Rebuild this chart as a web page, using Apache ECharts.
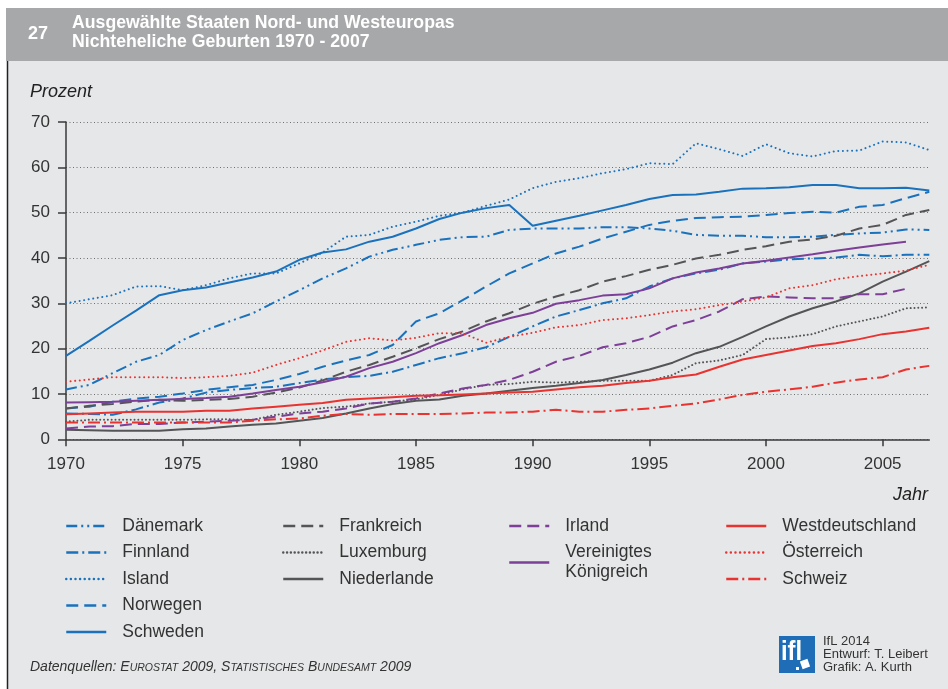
<!DOCTYPE html>
<html>
<head>
<meta charset="utf-8">
<script src="https://cdn.jsdelivr.net/npm/echarts@6/dist/echarts.min.js"></script>
<style>
html,body{margin:0;padding:0;background:#fff;}
#chart{width:948px;height:689px;}
</style>
</head>
<body>
<div id="chart"></div>
<script>
// ---- data ----
const years = [1970,1971,1972,1973,1974,1975,1976,1977,1978,1979,1980,1981,1982,1983,1984,1985,1986,1987,1988,1989,1990,1991,1992,1993,1994,1995,1996,1997,1998,1999,2000,2001,2002,2003,2004,2005,2006,2007];
const xTicks = [1970,1975,1980,1985,1990,1995,2000,2005];
const yTicks = [0,10,20,30,40,50,60,70];

const daenemark = [11.0,12.0,14.6,17.1,18.6,21.9,24.1,26.0,27.8,30.4, 32.9,35.5,37.7,40.3,41.8,42.9,44.0,44.6,44.7,46.2, 46.5,46.5,46.5,46.8,46.8,46.5,46.0,45.1,44.9,44.9, 44.6,44.6,44.7,45.1,45.4,45.6,46.3,46.2];
const finnland = [5.7,5.6,5.4,6.6,8.1,9.0,10.3,10.9,11.3,11.6, 12.4,13.2,13.7,14.0,14.9,16.4,17.9,19.0,20.3,22.6, 24.9,27.1,28.5,30.0,31.1,33.7,35.5,36.6,37.4,38.8, 39.2,39.7,39.9,40.1,40.7,40.4,40.7,40.7];
const island = [30.0,30.9,31.8,33.7,33.8,32.9,34.0,35.5,36.6,36.6, 38.8,41.2,44.7,45.1,46.9,48.0,49.3,50.0,51.5,52.9, 55.4,56.8,57.6,58.7,59.6,60.9,60.7,65.3,64.0,62.5, 65.1,63.1,62.4,63.6,63.7,65.7,65.5,63.8];
const norwegen = [6.8,7.2,8.3,9.0,9.4,10.1,10.9,11.5,12.0,13.1, 14.4,16.0,17.4,18.6,20.8,26.0,27.8,30.7,33.7,36.6, 38.8,41.0,42.5,44.3,45.8,47.3,48.2,48.8,49.0,49.1, 49.5,49.9,50.2,50.0,51.3,51.7,53.2,54.6];
const schweden = [18.4,21.7,25.1,28.4,31.8,32.9,33.5,34.6,35.7,37.0, 39.6,41.2,41.9,43.6,44.7,46.5,48.6,50.0,51.0,51.7, 47.1,48.2,49.3,50.5,51.7,53.0,53.9,54.0,54.6,55.3, 55.4,55.6,56.1,56.1,55.4,55.4,55.5,54.9];
const frankreich = [6.8,7.4,7.8,8.3,8.7,8.5,8.7,8.9,9.4,10.3, 11.4,13.0,14.9,16.4,18.2,20.1,22.1,23.8,26.0,27.8, 29.9,31.5,32.9,34.8,36.0,37.4,38.5,39.9,40.7,41.8, 42.6,43.6,44.1,44.9,46.5,47.3,49.5,50.6];
const luxemburg = [3.9,4.3,4.3,4.3,4.3,4.3,4.4,4.4,4.3,5.4, 6.1,6.9,7.2,7.9,8.3,8.8,9.8,11.0,12.0,12.2, 12.7,12.5,12.7,12.9,12.9,12.9,14.2,16.8,17.4,18.6, 22.1,22.5,23.2,24.9,26.0,27.1,28.9,29.1];
const niederlande = [2.1,2.0,1.9,1.9,1.9,2.2,2.4,2.8,3.2,3.5, 4.1,4.7,5.7,6.8,7.8,8.5,8.8,9.6,10.1,10.7, 11.3,11.8,12.4,13.1,14.2,15.4,16.9,19.0,20.4,22.6, 24.9,27.1,28.9,30.4,32.2,34.8,37.0,39.3];
const irland = [2.4,2.8,2.9,3.4,3.4,3.7,3.9,4.1,4.3,5.0, 5.7,6.1,6.8,7.9,8.3,9.0,10.1,11.2,12.0,13.1, 14.9,17.1,18.4,20.3,21.2,22.6,24.9,26.3,28.2,30.9, 31.5,31.3,31.1,31.1,32.0,32.0,33.2,null];
const vereinigtesKoenigreich = [8.1,8.2,8.3,8.5,8.7,8.9,9.1,9.4,10.1,10.9, 11.6,12.6,13.8,15.7,17.1,19.0,21.2,23.0,25.2,26.7, 27.9,29.9,30.7,31.7,32.0,33.3,35.5,36.8,37.7,38.8, 39.4,40.1,40.8,41.6,42.3,43.0,43.6,null];
const westdeutschland = [5.5,5.7,5.9,6.1,6.1,6.1,6.3,6.3,6.8,7.2, 7.6,8.0,8.7,9.0,9.3,9.6,9.7,9.9,10.1,10.3, 10.5,11.0,11.5,11.8,12.4,12.9,13.7,14.3,16.0,17.6, 18.6,19.6,20.6,21.2,22.1,23.2,23.8,24.6];
const oesterreich = [12.7,13.2,13.7,13.7,13.7,13.5,13.7,14.0,14.7,16.4, 17.9,19.6,21.5,22.3,21.8,22.4,23.4,23.4,21.3,22.6, 23.5,24.7,25.2,26.3,26.7,27.4,28.2,28.7,29.6,30.4, 31.3,33.3,34.0,35.3,36.0,36.6,37.2,38.5];
const schweiz = [3.7,3.7,3.7,3.7,3.7,3.7,3.7,3.7,4.1,4.4, 4.6,5.2,5.6,5.4,5.6,5.6,5.6,5.7,5.9,5.9, 6.1,6.5,6.1,6.1,6.5,6.8,7.4,7.9,8.8,9.8, 10.5,11.0,11.6,12.5,13.2,13.7,15.4,16.2];

const legendCols = [
  ['Dänemark','Finnland','Island','Norwegen','Schweden'],
  ['Frankreich','Luxemburg','Niederlande'],
  ['Irland','Vereinigtes Königreich'],
  ['Westdeutschland','Österreich','Schweiz']
];

// ---- styles ----
const BLUE = '#1a72bd', GREY = '#555557', PURPLE = '#7d3f98', RED = '#e83330';
const DASH = [12,6], DASHDOT = [12,4,2,4], DASHDOTDOT = [11,4,2,4,2,4], DOT = [0.01,4.6];

const defs = [
  ['Dänemark', daenemark, BLUE, DASHDOTDOT, 'butt'],
  ['Finnland', finnland, BLUE, DASHDOT, 'butt'],
  ['Island', island, BLUE, DOT, 'round'],
  ['Norwegen', norwegen, BLUE, DASH, 'butt'],
  ['Schweden', schweden, BLUE, 'solid', 'butt'],
  ['Frankreich', frankreich, GREY, DASH, 'butt'],
  ['Luxemburg', luxemburg, GREY, [0.01,3.8], 'round'],
  ['Niederlande', niederlande, GREY, 'solid', 'butt'],
  ['Irland', irland, PURPLE, DASH, 'butt'],
  ['Vereinigtes Königreich', vereinigtesKoenigreich, PURPLE, 'solid', 'butt'],
  ['Westdeutschland', westdeutschland, RED, 'solid', 'butt'],
  ['Österreich', oesterreich, RED, DOT, 'round'],
  ['Schweiz', schweiz, RED, DASHDOT, 'butt']
];

const series = defs.map(d => ({
  name: d[0],
  type: 'line',
  data: years.map((y, i) => [y, d[1][i]]),
  symbol: 'none',
  connectNulls: false,
  lineStyle: { color: d[2], width: 2, type: d[3], cap: d[4] },
  itemStyle: { color: d[2], opacity: 0 },
  emphasis: { disabled: true },
  animation: false
}));

const legendLeft = [60, 277, 503, 720];
const legends = legendCols.map((names, i) => ({
  data: names,
  orient: 'vertical',
  left: legendLeft[i],
  top: 511,
  itemWidth: 40,
  itemHeight: 14,
  itemGap: 6.5,
  selectedMode: false,
  itemStyle: { opacity: 0 },
  lineStyle: { width: 2.5 },
  textStyle: { fontFamily: 'Liberation Sans', fontSize: 17.5, color: '#333', lineHeight: 20, padding: [0,0,0,11] },
  formatter: n => n === 'Vereinigtes Königreich' ? 'Vereinigtes\nKönigreich' : n
}));

const chart = echarts.init(document.getElementById('chart'), null, { renderer: 'canvas' });
chart.setOption({
  backgroundColor: '#ffffff',
  animation: false,
  textStyle: { fontFamily: 'Liberation Sans' },
  grid: { left: 66, right: 18.7, top: 122, bottom: 249.7, containLabel: false },
  xAxis: {
    type: 'value', min: 1970, max: 2007, interval: 5,
    axisLine: { show: true, lineStyle: { color: '#3a3a3a', width: 1.5 } },
    axisTick: { show: true, length: 7, lineStyle: { color: '#3a3a3a', width: 1.5 }, customValues: xTicks },
    axisLabel: { customValues: xTicks, formatter: v => String(v), fontSize: 17, color: '#333', margin: 17, fontFamily: 'Liberation Sans' },
    splitLine: { show: false }
  },
  yAxis: {
    type: 'value', min: 0, max: 70, interval: 10,
    axisLine: { show: true, lineStyle: { color: '#3a3a3a', width: 1.5 } },
    axisTick: { show: true, length: 8, lineStyle: { color: '#3a3a3a', width: 1.5 } },
    axisLabel: { fontSize: 17, color: '#333', margin: 16, fontFamily: 'Liberation Sans' },
    splitLine: { show: true, lineStyle: { color: '#707070', width: 1, type: [1, 2.5] } }
  },
  legend: legends,
  series: series,
  graphic: [
    { type: 'rect', z: -20, silent: true, shape: { x: 6, y: 8, width: 942, height: 53 }, style: { fill: '#a7a8aa' } },
    { type: 'rect', z: -20, silent: true, shape: { x: 8, y: 61, width: 940, height: 628 }, style: { fill: '#e6e7e8' } },
    { type: 'line', z: -10, silent: true, shape: { x1: 7.5, y1: 61, x2: 7.5, y2: 689 }, style: { stroke: '#222', lineWidth: 1.5 } },
    { type: 'text', silent: true, x: 28, y: 34, style: { text: '27', fill: '#fff', font: 'bold 18px "Liberation Sans"', textVerticalAlign: 'middle' } },
    { type: 'text', silent: true, x: 72, y: 23, scaleX: 0.93, style: { text: 'Ausgewählte Staaten Nord- und Westeuropas', fill: '#fff', font: 'bold 19px "Liberation Sans"', textVerticalAlign: 'middle' } },
    { type: 'text', silent: true, x: 72, y: 42, scaleX: 0.93, style: { text: 'Nichteheliche Geburten 1970 - 2007', fill: '#fff', font: 'bold 19px "Liberation Sans"', textVerticalAlign: 'middle' } },
    { type: 'text', silent: true, x: 30, y: 92, style: { text: 'Prozent', fill: '#222', font: 'italic 18px "Liberation Sans"', textVerticalAlign: 'middle' } },
    { type: 'text', silent: true, x: 928, y: 495, style: { text: 'Jahr', fill: '#222', font: 'italic 18px "Liberation Sans"', textAlign: 'right', textVerticalAlign: 'middle' } },
    { type: 'text', silent: true, x: 30, y: 667, style: {
        text: '{a|Datenquellen: }{b|E}{c|UROSTAT}{a| 2009, }{b|S}{c|TATISTISCHES}{a| }{b|B}{c|UNDESAMT}{a| 2009}',
        textVerticalAlign: 'middle',
        rich: {
          a: { fontFamily: 'Liberation Sans', fontStyle: 'italic', fontSize: 14, fill: '#333', color: '#333' },
          b: { fontFamily: 'Liberation Sans', fontStyle: 'italic', fontSize: 14, fill: '#333', color: '#333' },
          c: { fontFamily: 'Liberation Sans', fontStyle: 'italic', fontSize: 10.5, fill: '#333', color: '#333', verticalAlign: 'bottom' }
        } } },
    { type: 'rect', silent: true, shape: { x: 779, y: 636, width: 36, height: 37 }, style: { fill: '#1f6db6' } },
    { type: 'text', silent: true, x: 781, y: 652, scaleX: 0.85, style: { text: 'ifl', fill: '#fff', font: 'bold 28px "Liberation Sans"', textVerticalAlign: 'middle' } },
    { type: 'rect', silent: true, x: 805, y: 664, rotation: 0.35, originX: 0, originY: 0, shape: { x: -4, y: -4, width: 8, height: 8 }, style: { fill: '#fff' } },
    { type: 'rect', silent: true, shape: { x: 796, y: 667, width: 3, height: 3 }, style: { fill: '#fff' } },
    { type: 'text', silent: true, x: 823, y: 641, style: { text: 'IfL 2014', fill: '#333', font: '13px "Liberation Sans"', textVerticalAlign: 'middle' } },
    { type: 'text', silent: true, x: 823, y: 654, style: { text: 'Entwurf: T. Leibert', fill: '#333', font: '13px "Liberation Sans"', textVerticalAlign: 'middle' } },
    { type: 'text', silent: true, x: 823, y: 667, style: { text: 'Grafik: A. Kurth', fill: '#333', font: '13px "Liberation Sans"', textVerticalAlign: 'middle' } }
  ]
});
</script>
</body>
</html>
